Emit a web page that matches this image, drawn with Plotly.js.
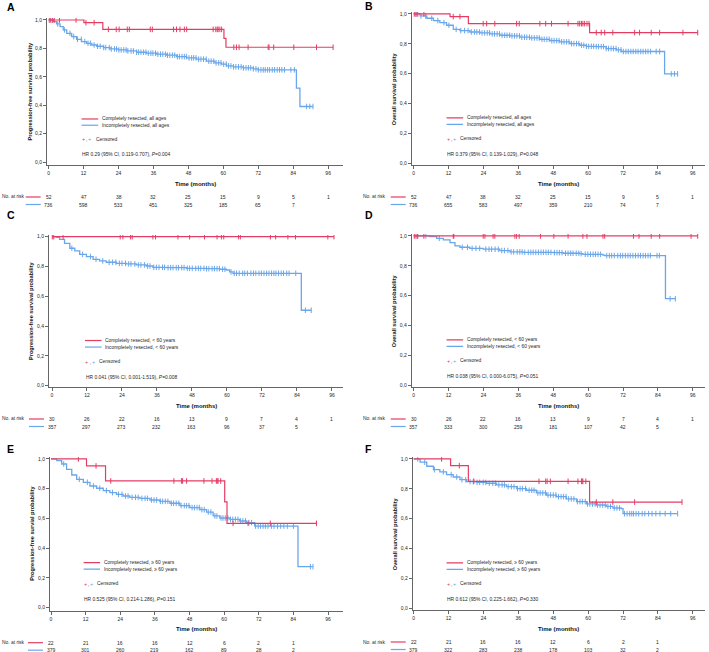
<!DOCTYPE html>
<html><head><meta charset="utf-8">
<script src="https://cdn.plot.ly/plotly-3.0.1.min.js"></script>
<style>html,body{margin:0;padding:0;background:#fff}#chart{width:709px;height:652px}</style>
</head><body><div id="chart"></div>
<script>
// ---------- DATA ----------
const xTickVals = [0,12,24,36,48,60,72,84,96];
const xTickText = ['0','12','24','36','48','60','72','84','96'];
const yTickVals = [0,0.2,0.4,0.6,0.8,1.0];
const yTickText = ['0,0','0,2','0,4','0,6','0,8','1,0'];
const riskTimes = [0,12,24,36,48,60,72,84,96];

// Panel A: PFS, all ages
const aRedT = [0,12.1,18.6,60.2,60.9,97.7];
const aRedS = [1,0.981,0.934,0.871,0.808,0.808];
const aRedC = [0.2,0.7,1.4,1.9,3.7,9.4,12.8,15.6,20.5,23.2,24.2,27,27.7,34.9,35.6,42.9,43.9,45.1,46.6,47.4,56.5,57.4,57.9,58.2,58.8,59.4,63.6,64.5,65.4,68.5,75.4,75.7,77.3,84.2,92,97.7];
const aBlueT = [0,1.6,2.7,3.9,5.0,6.2,7.9,9.6,11.3,13.0,14.8,16.5,18.8,21.1,23.9,26.8,30.2,33.6,37.1,40.5,43.9,47.4,50.8,54.2,57.1,59.4,61.1,63.4,66.8,70.3,72.0,85.1,86.3,90.8];
const aBlueS = [1,0.988,0.972,0.953,0.930,0.906,0.883,0.864,0.848,0.836,0.824,0.815,0.806,0.796,0.789,0.782,0.773,0.766,0.759,0.752,0.742,0.733,0.724,0.710,0.698,0.689,0.677,0.670,0.663,0.656,0.649,0.520,0.391,0.391];
const aBlueC = [1.2,3.1,5.4,7.3,8.6,9.9,11.2,12.4,13.5,14.3,15.6,16.8,17.7,18.9,19.6,20.8,21.5,22.6,23.3,24.1,24.9,25.8,26.6,27.2,28.3,29.1,30.2,30.9,31.7,32.6,33.4,34.2,35.1,35.8,36.7,37.5,38.4,39.2,40.1,40.8,41.6,42.5,43.3,44.2,44.9,45.8,46.6,47.3,48.2,49.1,49.8,50.6,51.5,52.3,53.2,54.1,55.0,55.8,56.7,57.5,58.4,59.2,60.1,61.0,61.8,62.6,63.5,64.3,65.2,66.1,66.9,67.8,68.6,69.4,70.3,71.2,72.0,72.9,73.7,74.4,75.2,75.9,76.8,77.6,78.5,79.3,80.1,81.0,83.2,84.4,88.6,89.7,90.8];
const aRiskRed = [52,47,38,32,25,15,9,5,1];
const aRiskBlue = [736,598,533,451,325,185,65,7];

// Panel B: OS, all ages
const bRedT = [0,12.5,18.8,60.5,97.7];
const bRedS = [1,0.982,0.935,0.875,0.875];
const bRedC = [0.2,0.8,1.4,3.5,13.6,15.9,23.9,25.1,27.9,35.4,36.3,43.4,45.4,47.4,53.1,56.5,57.1,57.7,58.2,58.8,59.6,60.3,62.8,64.5,65.7,68.5,76,77.7,81.7,84.6,92.6,97.7];
const bBlueT = [0,2.2,4.5,6.8,9.0,11.3,13.6,15.9,19.3,22.8,26.2,29.6,33.1,36.5,39.9,43.4,46.8,50.2,53.7,57.1,59.4,62.8,66.2,69.7,71.4,86.3,90.8];
const bBlueS = [1,0.987,0.971,0.955,0.942,0.924,0.897,0.888,0.879,0.873,0.866,0.857,0.853,0.844,0.839,0.830,0.821,0.813,0.801,0.790,0.783,0.781,0.768,0.759,0.748,0.598,0.598];
const bBlueC = [0.8,2.5,4.1,6.2,8.3,10.4,12.1,14.6,16.2,17.5,18.7,19.8,20.9,21.7,22.6,23.5,24.4,25.3,26.1,27.0,27.8,28.7,29.5,30.4,31.3,32.1,33.0,33.8,34.7,35.5,36.4,37.2,38.1,38.9,39.8,40.6,41.5,42.4,43.2,44.1,44.9,45.8,46.6,47.5,48.3,49.2,50.0,50.9,51.7,52.6,53.4,54.3,55.1,56.0,56.8,57.7,58.5,59.4,60.2,61.1,61.9,62.8,63.6,64.5,65.3,66.2,67.0,67.9,68.7,69.6,70.4,71.3,72.1,73.0,73.8,74.7,75.5,76.4,77.2,78.1,78.9,79.8,80.6,81.5,83.4,84.6,88.6,89.7,90.8];
const bRiskRed = [52,47,38,32,25,15,9,5,1];
const bRiskBlue = [736,655,583,497,359,210,74,7];

// Panel C: PFS, < 60 years
const cRedT = [0,96.7];
const cRedS = [1,1];
const cRedC = [0.1,0.6,3.8,23.4,24.3,26.9,27.5,34.6,35.5,43.2,47.2,52.3,56.6,58.1,58.9,64.0,64.6,74.9,76.7,80.9,83.5,94.6,96.7];
const cBlueT = [0,1.5,2.6,4.3,6.1,7.8,9.5,11.8,14.1,16.3,18.6,22.1,25.5,28.9,32.3,34.6,39.2,46.1,52.9,57.5,59.8,60.9,62.1,85.5,88.9];
const cBlueS = [1,0.996,0.982,0.955,0.922,0.904,0.881,0.866,0.848,0.837,0.828,0.821,0.817,0.810,0.803,0.794,0.792,0.787,0.785,0.781,0.776,0.763,0.754,0.506,0.506];
const cBlueC = [6.8,10.5,13.2,15.1,17.4,19.6,20.8,21.9,23.1,24.0,25.2,26.3,27.1,28.4,29.6,30.5,31.7,32.8,33.6,34.9,35.8,36.7,37.9,38.6,39.8,40.7,41.5,42.6,43.4,44.5,45.3,46.4,47.2,48.1,49.3,50.2,51.0,52.1,53.0,53.8,54.9,55.7,56.6,57.4,58.5,59.3,61.4,62.5,63.3,64.2,65.4,66.1,67.0,68.2,69.1,69.9,71.0,71.8,72.7,73.6,74.4,75.3,76.1,76.8,77.7,78.6,79.4,80.5,81.3,83.6,86.9,88.9];
const cRiskRed = [30,26,22,16,13,9,7,4,1];
const cRiskBlue = [357,297,273,232,163,96,37,5];

// Panel D: OS, < 60 years
const dRedT = [0,97.7];
const dRedS = [1,1];
const dRedC = [0.2,0.8,1.4,3.5,13.6,13.8,23.9,24.5,27.3,27.9,34.8,35.4,36.3,43.6,48.2,53.1,58.2,59.6,65.1,65.7,75.6,77.5,81.7,84.6,95.4,97.7];
const dBlueT = [0,5.6,7.9,10.2,12.5,14.2,15.9,19.3,23.9,29.6,33.1,37.6,47.9,51.4,57.1,58.2,65.1,65.7,86.6,90.0];
const dBlueS = [1,0.996,0.984,0.973,0.955,0.933,0.924,0.917,0.911,0.902,0.893,0.890,0.888,0.884,0.881,0.877,0.872,0.868,0.579,0.579];
const dBlueC = [1.3,4.2,8.8,16.7,18.5,20.1,21.4,22.7,24.8,25.9,26.8,28.0,29.1,30.3,31.2,32.4,33.5,34.4,35.6,36.5,37.3,38.2,39.4,40.3,41.1,42.0,42.9,43.8,44.6,45.5,46.3,47.2,48.4,49.3,50.1,51.0,52.2,53.1,54.0,54.8,55.9,56.8,57.6,59.0,59.9,60.8,61.7,62.5,63.4,64.3,66.4,67.3,68.1,69.0,70.2,71.1,71.9,72.8,73.7,74.5,75.4,76.3,77.2,78.0,78.9,79.7,80.6,81.4,83.7,84.5,88.2,90.0];
const dRiskRed = [30,26,22,16,13,9,7,4,1];
const dRiskBlue = [357,333,300,259,181,107,42,5];

// Panel E: PFS, >= 60 years
const eRedT = [0,12.3,18.9,60.2,61.0,92.0];
const eRedS = [1,0.953,0.852,0.711,0.567,0.567];
const eRedC = [9.5,15.6,20.7,42.6,45.2,45.6,47.0,53.0,55.8,57.3,57.6,57.9,58.8,63.1,68.3,76.0,92.0];
const eBlueT = [0,2.0,3.7,5.4,7.2,8.9,11.2,13.5,15.8,18.1,20.4,22.7,25.0,27.3,30.8,34.3,37.7,41.2,44.7,48.1,51.6,53.9,56.2,58.5,62.0,65.4,67.7,70.6,85.6,90.8];
const eBlueS = [1,0.989,0.966,0.930,0.892,0.863,0.843,0.818,0.803,0.787,0.774,0.762,0.751,0.742,0.735,0.724,0.715,0.702,0.686,0.673,0.659,0.643,0.617,0.603,0.594,0.583,0.572,0.549,0.276,0.276];
const eBlueC = [4.4,9.8,12.6,14.7,16.9,19.2,21.3,23.4,24.6,25.8,26.7,28.1,29.3,30.2,31.5,32.6,33.4,34.8,35.7,36.6,37.9,38.7,39.6,40.5,41.7,42.5,43.4,44.3,45.1,46.2,47.0,47.8,48.9,49.7,50.6,51.4,52.3,53.1,54.5,55.4,56.8,57.5,58.9,59.6,60.4,61.3,62.2,63.0,63.9,64.8,65.7,66.5,67.4,68.6,69.5,70.9,71.8,72.6,73.5,74.3,75.2,76.4,77.3,78.5,79.6,80.7,81.9,84.0,89.9,90.8];
const eRiskRed = [22,21,16,16,12,6,2,1];
const eRiskBlue = [379,301,260,219,162,89,28,2];

// Panel F: OS, >= 60 years
const fRedT = [0,12.7,18.8,60.5,92.3];
const fRedS = [1,0.955,0.850,0.711,0.711];
const fRedC = [9.6,15.7,20.7,43.1,45.4,45.9,47.0,53.1,56.5,57.7,57.9,58.2,59.2,62.8,68.5,76.0,92.3];
const fBlueT = [0,2.2,4.5,6.8,9.0,11.3,13.6,15.9,18.2,21.6,25.1,28.5,31.9,35.4,38.8,42.2,45.7,49.1,52.5,56.0,59.4,62.8,66.2,68.5,71.4,72.0,90.8];
const fBlueS = [1,0.978,0.951,0.928,0.913,0.895,0.879,0.861,0.848,0.843,0.837,0.826,0.814,0.801,0.790,0.772,0.758,0.747,0.732,0.714,0.698,0.691,0.682,0.671,0.667,0.633,0.633];
const fBlueC = [1.4,3.8,7.1,10.2,12.9,14.8,16.6,17.9,19.4,20.5,21.8,22.7,23.9,24.8,26.0,27.2,28.1,29.3,30.4,31.2,32.5,33.6,34.5,35.7,36.6,37.4,38.5,39.7,40.6,41.4,42.7,43.5,44.4,45.3,46.2,47.1,48.0,48.9,49.8,50.7,51.5,52.4,53.3,54.2,55.1,56.3,57.2,58.0,59.0,59.8,60.6,61.5,62.4,63.2,64.1,65.0,65.9,66.8,67.7,69.0,69.9,70.8,72.5,73.4,74.3,75.0,75.6,76.5,77.4,78.6,79.5,80.8,82.0,83.3,84.7,86.5,88.4,90.8];
const fRiskRed = [22,21,16,16,12,6,2,1];
const fRiskBlue = [379,322,283,238,178,103,32,2];

// Texts
const panelLetters = ['A','B','C','D','E','F'];
const yTitles = ['Progression-free survival probability','Overall survival probability','Progression-free survival probability','Overall survival probability','Progression-free survial probability','Overall survival probability'];
const redLabels = ['Completely resected, all ages','Completely resected, all ages','Completely resected, < 60 years','Completely resected, < 60 years','Completely resected, \u2265 60 years','Completely resected, \u2265 60 years'];
const blueLabels = ['Incompletely resected, all ages','Incompletely resected, all ages','Incompletely resected, < 60 years','Incompletely resected, < 60 years','Incompletely resected, \u2265 60 years','Incompletely resected, \u2265 60 years'];
const hrTexts = ['HR 0.29 (95% CI, 0.119-0.707), <i>P</i>=0.004','HR 0.379 (95% CI, 0.139-1.029), <i>P</i>=0.048','HR 0.041 (95% CI, 0.001-1.519), <i>P</i>=0.008','HR 0.038 (95% CI, 0.000-6.075), <i>P</i>=0.051','HR 0.525 (95% CI, 0.214-1.286), <i>P</i>=0.151','HR 0.612 (95% CI, 0.225-1.662), <i>P</i>=0.330'];
const xTitle = 'Time (months)';
const riskLabel = 'No. at risk';
const censLabel = 'Censored';

// ---------- LAYOUT / BUILD ----------
const W = 709, H = 652;
const RED = '#e53c64', BLUE = '#6aa6ea', AX = '#666', TXT = '#262626';
const FONT = 'Liberation Sans, Arial, sans-serif';
const series = [
  {rt:aRedT, rs:aRedS, rc:aRedC, bt:aBlueT, bs:aBlueS, bc:aBlueC, rr:aRiskRed, rb:aRiskBlue},
  {rt:bRedT, rs:bRedS, rc:bRedC, bt:bBlueT, bs:bBlueS, bc:bBlueC, rr:bRiskRed, rb:bRiskBlue},
  {rt:cRedT, rs:cRedS, rc:cRedC, bt:cBlueT, bs:cBlueS, bc:cBlueC, rr:cRiskRed, rb:cRiskBlue},
  {rt:dRedT, rs:dRedS, rc:dRedC, bt:dBlueT, bs:dBlueS, bc:dBlueC, rr:dRiskRed, rb:dRiskBlue},
  {rt:eRedT, rs:eRedS, rc:eRedC, bt:eBlueT, bs:eBlueS, bc:eBlueC, rr:eRiskRed, rb:eRiskBlue},
  {rt:fRedT, rs:fRedS, rc:fRedC, bt:fBlueT, bs:fBlueS, bc:fBlueC, rr:fRiskRed, rb:fRiskBlue}
];
// pixel boxes of each plot area and axis ranges
const boxes = [
  {l:47,   r:343, t:18,  b:165,   xr:[-0.58,101.1], yr:[-0.021,1.014], lx:5,   ly:7},
  {l:411.7,r:705, t:12,  b:165,   xr:[-0.69,100.2], yr:[-0.013,1.013], lx:363, ly:6},
  {l:49,   r:343, t:235, b:387,   xr:[-1.03,99.8],  yr:[-0.009,1.011], lx:5,   ly:215},
  {l:411.7,r:705, t:234, b:387,   xr:[-0.69,100.2], yr:[-0.013,1.013], lx:363, ly:215},
  {l:50,   r:343, t:457, b:610.7, xr:[-0.35,101.2], yr:[-0.02,1.013],  lx:5,   ly:449},
  {l:412.7,r:705, t:457, b:610,   xr:[-0.34,100.2], yr:[-0.013,1.013], lx:363, ly:449}
];
const px = v => v / W;
const py = v => 1 - v / H;
function stepAt(T, S, t) { let v = S[0]; for (let i = 0; i < T.length; i++) { if (T[i] <= t) v = S[i]; else break; } return v; }

const traces = [], annotations = [], shapes = [];
const layout = {
  width: W, height: H, margin: {l:0, r:0, t:0, b:0},
  paper_bgcolor: '#fff', plot_bgcolor: 'rgba(0,0,0,0)', showlegend: false,
  font: {family: FONT, color: TXT, size: 5}
};
const fs = 4.9;
series.forEach((s, i) => {
  const b = boxes[i];
  const sfx = i === 0 ? '' : String(i + 1);
  const xa = 'x' + sfx, ya = 'y' + sfx;
  layout['xaxis' + sfx] = {
    domain: [px(b.l), px(b.r)], range: b.xr, anchor: ya,
    tickmode: 'array', tickvals: xTickVals, ticktext: xTickText,
    showline: true, linecolor: AX, linewidth: 1, ticks: 'outside', ticklen: 3, tickwidth: 1, tickcolor: AX,
    showgrid: false, zeroline: false, tickfont: {size: 5, color: TXT, family: FONT}, fixedrange: true
  };
  layout['yaxis' + sfx] = {
    domain: [py(b.b), py(b.t)], range: b.yr, anchor: xa,
    tickmode: 'array', tickvals: yTickVals, ticktext: yTickText,
    showline: true, linecolor: AX, linewidth: 1, ticks: 'outside', ticklen: 3, tickwidth: 1, tickcolor: AX,
    showgrid: false, zeroline: false, tickfont: {size: 5, color: TXT, family: FONT}, fixedrange: true
  };
  // curves
  traces.push({x: s.bt, y: s.bs, xaxis: xa, yaxis: ya, type: 'scatter', mode: 'lines', line: {shape: 'hv', color: BLUE, width: 1.3}, hoverinfo: 'skip'});
  traces.push({x: s.bc, y: s.bc.map(t => stepAt(s.bt, s.bs, t)), xaxis: xa, yaxis: ya, type: 'scatter', mode: 'markers', marker: {symbol: 'line-ns-open', size: 4, color: BLUE, line: {color: BLUE, width: 1}}, hoverinfo: 'skip'});
  traces.push({x: s.rt, y: s.rs, xaxis: xa, yaxis: ya, type: 'scatter', mode: 'lines', line: {shape: 'hv', color: RED, width: 1.2}, hoverinfo: 'skip'});
  traces.push({x: s.rc, y: s.rc.map(t => stepAt(s.rt, s.rs, t)), xaxis: xa, yaxis: ya, type: 'scatter', mode: 'markers', marker: {symbol: 'line-ns-open', size: 4, color: RED, line: {color: RED, width: 1}}, hoverinfo: 'skip'});

  // panel letter
  annotations.push({text: '<b>' + panelLetters[i] + '</b>', xref: 'paper', yref: 'paper', x: px(b.lx), y: py(b.ly), xanchor: 'left', yanchor: 'middle', showarrow: false, font: {size: 10.5, color: '#000', family: FONT}});
  // y title
  annotations.push({text: '<b>' + yTitles[i] + '</b>', xref: 'paper', yref: 'paper', x: px(b.l - 18), y: py((b.t + b.b) / 2), xanchor: 'center', yanchor: 'middle', textangle: -90, showarrow: false, font: {size: 5.6, color: '#111', family: FONT}});
  // x title
  annotations.push({text: '<b>' + xTitle + '</b>', xref: 'paper', yref: 'paper', x: px((b.l + b.r) / 2), y: py(b.b + 18.5), xanchor: 'center', yanchor: 'middle', showarrow: false, font: {size: 6, color: '#111', family: FONT}});
  // legend inside plot
  const ly1 = 0.303, ly2 = 0.259, ly3 = 0.162, ly4 = 0.055;
  shapes.push({type: 'line', xref: xa, yref: ya, x0: 11.3, x1: 17, y0: ly1, y1: ly1, line: {color: RED, width: 1.2}});
  shapes.push({type: 'line', xref: xa, yref: ya, x0: 11.3, x1: 17, y0: ly2, y1: ly2, line: {color: BLUE, width: 1.2}});
  annotations.push({text: redLabels[i], xref: xa, yref: ya, x: 17.6, y: ly1, xanchor: 'left', yanchor: 'middle', showarrow: false, font: {size: fs, color: TXT}});
  annotations.push({text: blueLabels[i], xref: xa, yref: ya, x: 17.6, y: ly2, xanchor: 'left', yanchor: 'middle', showarrow: false, font: {size: fs, color: TXT}});
  annotations.push({text: '+', xref: xa, yref: ya, x: 12.0, y: ly3, xanchor: 'center', yanchor: 'middle', showarrow: false, font: {size: 5.5, color: RED}});
  annotations.push({text: ',', xref: xa, yref: ya, x: 13.1, y: ly3 - 0.006, xanchor: 'center', yanchor: 'middle', showarrow: false, font: {size: 4.5, color: TXT}});
  annotations.push({text: '+', xref: xa, yref: ya, x: 14.1, y: ly3, xanchor: 'center', yanchor: 'middle', showarrow: false, font: {size: 5.5, color: BLUE}});
  annotations.push({text: censLabel, xref: xa, yref: ya, x: 15.4, y: ly3, xanchor: 'left', yanchor: 'middle', showarrow: false, font: {size: fs, color: TXT}});
  annotations.push({text: hrTexts[i], xref: xa, yref: ya, x: 10.9, y: ly4, xanchor: 'left', yanchor: 'middle', showarrow: false, font: {size: fs, color: TXT}});
  // risk table
  const x0px = b.l + (0 - b.xr[0]) / (b.xr[1] - b.xr[0]) * (b.r - b.l);
  const r1 = b.b + 32, r2 = b.b + 39.5;
  const leftCol = (i % 2 === 0);
  annotations.push({text: riskLabel, xref: 'paper', yref: 'paper', x: leftCol ? px(0) : px(x0px - 26), y: py(r1), xanchor: leftCol ? 'left' : 'right', yanchor: 'middle', showarrow: false, font: {size: fs, color: TXT}});
  shapes.push({type: 'line', xref: 'paper', yref: 'paper', x0: px(x0px - 23), x1: px(x0px - 8), y0: py(r1), y1: py(r1), line: {color: RED, width: 1.2}});
  shapes.push({type: 'line', xref: 'paper', yref: 'paper', x0: px(x0px - 23), x1: px(x0px - 8), y0: py(r2), y1: py(r2), line: {color: BLUE, width: 1.2}});
  s.rr.forEach((v, k) => annotations.push({text: String(v), xref: xa, yref: 'paper', x: riskTimes[k], y: py(r1), xanchor: 'center', yanchor: 'middle', showarrow: false, font: {size: 5, color: TXT}}));
  s.rb.forEach((v, k) => annotations.push({text: String(v), xref: xa, yref: 'paper', x: riskTimes[k], y: py(r2), xanchor: 'center', yanchor: 'middle', showarrow: false, font: {size: 5, color: TXT}}));
});
layout.annotations = annotations;
layout.shapes = shapes;
Plotly.newPlot('chart', traces, layout, {staticPlot: true, displayModeBar: false});
</script></body></html>
